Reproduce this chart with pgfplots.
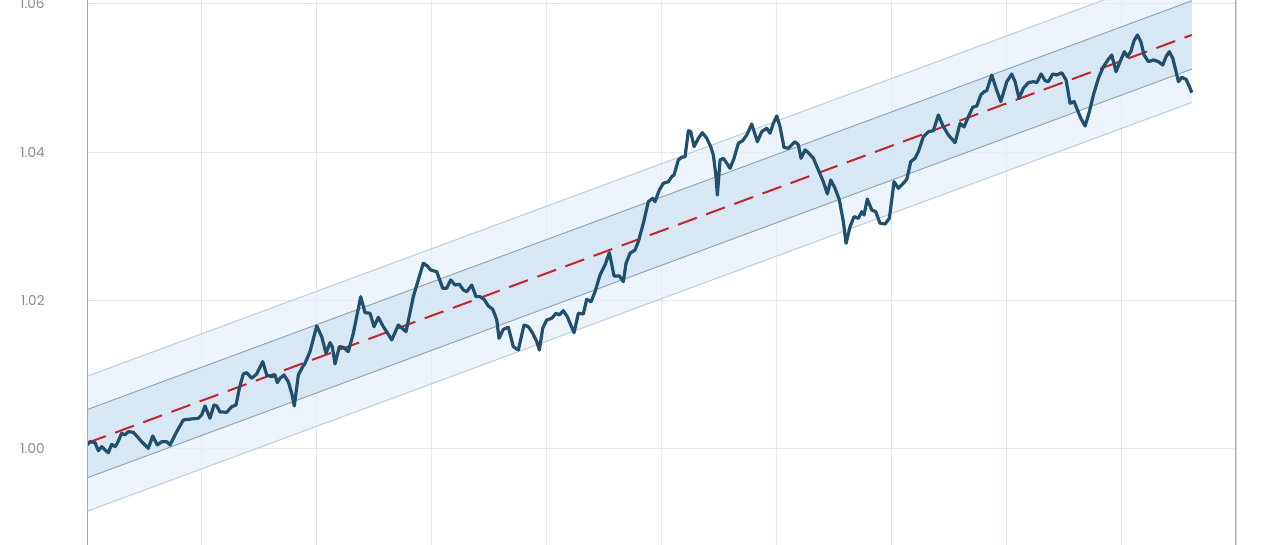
\documentclass[border=0pt]{standalone}
\usepackage{pgfplots}
\pgfplotsset{compat=1.18}
\usepackage{fontspec}
\newfontfamily\tickfont{Poppins}
\definecolor{outerband}{HTML}{E5EFF9}
\definecolor{innerband}{HTML}{D0E3F2}
\definecolor{inneredge}{HTML}{93A6B5}
\definecolor{outeredge}{HTML}{C0CDD8}
\definecolor{navy}{HTML}{21506F}
\definecolor{trendred}{HTML}{C4262E}
\definecolor{gridc}{HTML}{E4E8EC}
\definecolor{axisc}{HTML}{A3AAB0}
\definecolor{labelc}{HTML}{8A8A8A}
\begin{document}
\begin{tikzpicture}
\begin{axis}[
  at={(43.5pt,0pt)}, anchor=south west,
  scale only axis, width=574.5pt, height=272.5pt,
  xmin=0, xmax=260, ymin=0.98706, ymax=1.06051,
  xtick={0,26,...,260}, xticklabels={},
  ytick={1.00,1.02,1.04,1.06},
  yticklabel style={/pgf/number format/fixed, /pgf/number format/fixed zerofill, /pgf/number format/precision=2, /pgf/number format/assume math mode=true, font=\tickfont\fontsize{6.8}{7.5}\selectfont, text=labelc, inner sep=0pt, anchor=east},
  yticklabel shift=21pt,
  scaled y ticks=false,
  major tick length=0pt,
  grid=major, major grid style={gridc, line width=0.5pt},
  axis line style={draw=none},
  clip=true,
]
\addplot[fill=outerband, fill opacity=0.7, draw=none] coordinates {(0,1.0098) (250,1.0649) (250,1.0467) (0,0.9916)} --cycle;
\addplot[fill=innerband, fill opacity=0.7, draw=none] coordinates {(0,1.0053) (250,1.0604) (250,1.0512) (0,0.9961)} --cycle;
\addplot[outeredge, line width=0.5pt] coordinates {(0,1.0098) (250,1.0649)};
\addplot[outeredge, line width=0.5pt] coordinates {(0,0.9916) (250,1.0467)};
\addplot[inneredge, line width=0.5pt] coordinates {(0,1.0053) (250,1.0604)};
\addplot[inneredge, line width=0.5pt] coordinates {(0,0.9961) (250,1.0512)};
\addplot[trendred, line width=1pt, dash pattern=on 10pt off 5pt] coordinates {(0,1.0008) (250,1.0558)};
\addplot[navy, line width=1.6pt, line join=round] coordinates {
(0,1.00054) (0.68,1.00098) (1.81,1.00085) (2.56,0.99977) (3.33,1.00031) (4.07,0.99987) (4.82,0.99950) (5.59,1.00063) (6.34,1.00031) (6.86,1.00077)
(7.85,1.00212) (8.60,1.00189) (9.35,1.00233) (10.48,1.00225) (11.25,1.00175) (12.38,1.00098) (13.87,1.00009) (14.87,1.00175) (15.91,1.00054) (16.90,1.00098)
(18.04,1.00098) (18.78,1.00054) (20.30,1.00233) (21.79,1.00391) (22.92,1.00400) (25.19,1.00414) (25.96,1.00458) (26.70,1.00580) (27.83,1.00414) (28.74,1.00593)
(29.35,1.00580) (30.10,1.00499) (31.61,1.00495) (32.75,1.00570) (33.72,1.00593) (34.47,1.00818) (35.37,1.01011) (36.14,1.01028) (37.27,1.00953) (38.40,1.01011)
(39.76,1.01177) (40.67,1.00997) (41.80,1.00974) (42.54,1.00997) (43.06,1.00894) (43.68,1.00953) (44.58,1.00997) (45.55,1.00907) (46.32,1.00751) (46.91,1.00580)
(47.82,1.00997) (48.81,1.01109) (49.33,1.01155) (50.46,1.01311) (51.98,1.01658) (53.11,1.01513) (54.09,1.01290) (54.99,1.01433) (55.51,1.01379) (56.12,1.01146)
(57.10,1.01379) (58.00,1.01371) (59.13,1.01311) (60.26,1.01559) (61.94,1.02053) (62.91,1.01837) (64.04,1.01829) (64.95,1.01648) (65.92,1.01775) (67.05,1.01648)
(67.96,1.01567) (68.95,1.01469) (70.45,1.01671) (72.19,1.01581) (73.84,1.02053) (74.97,1.02278) (76.10,1.02503) (77.01,1.02466) (77.78,1.02412) (79.14,1.02389)
(80.49,1.02166) (81.40,1.02166) (82.30,1.02278) (83.28,1.02210) (84.25,1.02220) (85.16,1.02143) (85.93,1.02120) (87.06,1.02210) (88.03,1.02053) (88.94,1.02053)
(89.84,1.02018) (90.81,1.01927) (91.81,1.01883) (92.72,1.01739) (93.24,1.01492) (94.21,1.01613) (95.34,1.01640) (96.47,1.01379) (97.60,1.01334) (98.89,1.01671)
(99.87,1.01648) (100.86,1.01559) (101.77,1.01446) (102.36,1.01334) (103.12,1.01627) (104.03,1.01739) (105.16,1.01761) (106.13,1.01829) (106.88,1.01806) (107.79,1.01864)
(108.69,1.01783) (109.46,1.01671) (110.21,1.01567) (111.18,1.01829) (112.31,1.01819) (113.08,1.02018) (114.06,1.01985) (114.96,1.02120) (116.09,1.02345) (117.22,1.02480)
(118.20,1.02646) (119.26,1.02332) (120.46,1.02332) (121.37,1.02255) (121.98,1.02503) (122.88,1.02637) (124.01,1.02682) (124.76,1.02794) (125.89,1.03042) (127.02,1.03333)
(128.02,1.03379) (128.54,1.03333) (129.51,1.03491) (130.42,1.03581) (131.55,1.03602) (132.32,1.03670) (132.84,1.03693) (133.81,1.03895) (134.58,1.03931) (135.33,1.03939)
(136.08,1.04290) (136.62,1.04276) (137.37,1.04074) (138.34,1.04187) (139.24,1.04263) (140.24,1.04187) (141.14,1.04074) (141.73,1.03962) (142.34,1.03670) (142.64,1.03423)
(143.25,1.03895) (144.00,1.03918) (144.76,1.03850) (145.51,1.03783) (146.41,1.03918) (147.39,1.04120) (148.38,1.04155) (149.29,1.04232) (150.42,1.04380) (151.69,1.04141)
(152.68,1.04276) (153.81,1.04322) (154.56,1.04255) (155.31,1.04389) (156.08,1.04488) (156.82,1.04344) (157.73,1.04063) (158.70,1.04053) (160.22,1.04141) (160.97,1.04097)
(161.58,1.03918) (162.49,1.04030) (163.23,1.03993) (164.37,1.03918) (165.49,1.03760) (166.62,1.03602) (167.53,1.03437) (168.30,1.03625) (169.27,1.03513) (170.24,1.03356)
(171.15,1.03063) (171.76,1.02772) (172.67,1.02996) (173.57,1.03131) (174.54,1.03109) (175.31,1.03198) (175.83,1.03154) (176.58,1.03369) (177.57,1.03221) (178.48,1.03198)
(179.45,1.03042) (180.59,1.03032) (181.56,1.03109) (182.62,1.03602) (183.60,1.03513) (184.73,1.03581) (185.50,1.03635) (186.40,1.03872) (187.38,1.03918) (188.12,1.04007)
(189.25,1.04209) (190.39,1.04276) (191.52,1.04290) (192.65,1.04501) (193.78,1.04344) (194.91,1.04232) (196.43,1.04128) (197.56,1.04387) (198.47,1.04340) (199.44,1.04478)
(200.43,1.04605) (201.34,1.04623) (202.24,1.04771) (202.99,1.04815) (203.60,1.04829) (204.73,1.05040) (205.70,1.04861) (206.77,1.04681) (208.13,1.04950) (209.26,1.05054)
(210.00,1.04950) (210.91,1.04726) (211.88,1.04861) (213.01,1.04937) (214.15,1.04950) (214.92,1.04937) (215.89,1.05054) (216.80,1.04964) (217.54,1.04950) (218.54,1.05054)
(219.44,1.05040) (220.57,1.05071) (221.55,1.04973) (222.45,1.04659) (223.36,1.04681) (224.11,1.04569) (224.88,1.04457) (225.85,1.04353) (226.82,1.04546) (227.73,1.04771)
(228.86,1.04996) (229.99,1.05152) (231.12,1.05252) (231.89,1.05310) (232.86,1.05085) (233.77,1.05220) (234.74,1.05354) (235.42,1.05287) (236.19,1.05354) (236.94,1.05503)
(237.69,1.05580) (238.46,1.05489) (239.19,1.05310) (240.17,1.05220) (241.30,1.05243) (242.43,1.05220) (243.43,1.05175) (244.17,1.05287) (244.92,1.05354) (245.69,1.05265)
(246.44,1.05085) (246.96,1.04950) (247.73,1.05009) (248.70,1.04982) (249.45,1.04883) (250,1.04802)
};
\draw[axisc, line width=1pt] (rel axis cs:0,0) -- (rel axis cs:0,1);
\draw[axisc, line width=1pt] (rel axis cs:1,0) -- (rel axis cs:1,1);
\end{axis}
\pgfresetboundingbox
\path[use as bounding box] (0pt,0pt) rectangle (640pt,272.5pt);
\end{tikzpicture}
\end{document}
